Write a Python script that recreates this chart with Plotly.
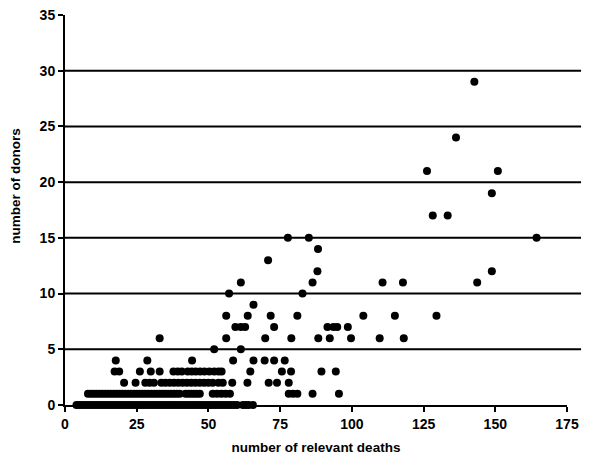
import plotly.graph_objects as go

# number of relevant deaths (x) for each number of donors (y), read row by row
deaths_0 = [4, 5, 6, 7, 8, 9, 10, 11, 12, 13, 14, 15, 16, 17, 18, 19, 20, 21, 22, 23,
            24, 25, 26, 27, 28, 29, 30, 31, 32, 33, 34, 35, 36, 37, 38, 39, 40, 41, 42,
            43, 44, 45, 46, 47, 48, 49, 50, 51, 52, 53, 54, 55, 56, 57, 58, 59, 60,
            62, 63, 64, 65.5]
deaths_1 = [8, 9, 10, 11, 12, 13, 14, 15, 16, 17, 18, 19, 20, 21, 22, 23, 24, 25, 26,
            27, 28, 29, 30, 31, 32, 33, 34, 35, 36, 37, 38, 39, 40, 42, 43, 44, 45, 46,
            47, 51.5, 53, 54.5, 56, 57.5, 78, 79.5, 81, 86.3, 95.5]
deaths_2 = [20.6, 24.6, 28, 29.5, 31, 33.6, 35, 36.5, 38, 39.5, 41, 42.5, 44, 45.5,
            47, 48.5, 50, 51.5, 53.5, 55, 58.3, 63.6, 71, 73.9, 78]
deaths_3 = [17.3, 18.9, 26.1, 29.9, 33, 37.8, 39.3, 40.7, 42.8, 44.2, 45.6, 47.1,
            48.6, 50.3, 52, 53.5, 54.6, 64.6, 75.6, 78.8, 89.4, 94.4]
deaths_4 = [17.7, 28.7, 44.3, 58.6, 65.7, 69.6, 72.9, 76.6]
deaths_5 = [52, 61.3]
deaths_6 = [33, 56.2, 69.8, 78.9, 88.3, 92.3, 99.7, 109.7, 118.1]
deaths_7 = [59.4, 61.3, 62.8, 72.9, 91.5, 93.6, 94.9, 98.6]
deaths_8 = [56.2, 63.7, 71.7, 81, 104, 115, 129.5]
deaths_9 = [65.7]
deaths_10 = [57.2, 82.8]
deaths_11 = [61.3, 86.3, 110.7, 117.8, 143.7]
deaths_12 = [88, 148.8]
deaths_13 = [70.8]
deaths_14 = [88.2]
deaths_15 = [77.7, 85, 164.4]
deaths_17 = [128.2, 133.4]
deaths_19 = [148.8]
deaths_21 = [126.2, 150.9]
deaths_24 = [136.3]
deaths_29 = [142.7]

rows = {0: deaths_0, 1: deaths_1, 2: deaths_2, 3: deaths_3, 4: deaths_4, 5: deaths_5,
        6: deaths_6, 7: deaths_7, 8: deaths_8, 9: deaths_9, 10: deaths_10,
        11: deaths_11, 12: deaths_12, 13: deaths_13, 14: deaths_14, 15: deaths_15,
        17: deaths_17, 19: deaths_19, 21: deaths_21, 24: deaths_24, 29: deaths_29}

x_ticks = [0, 25, 50, 75, 100, 125, 150, 175]
y_ticks = [0, 5, 10, 15, 20, 25, 30, 35]
grid_levels = [5, 10, 15, 20, 25, 30]

xs, ys = [], []
for donors, deaths in rows.items():
    for d in deaths:
        xs.append(d)
        ys.append(donors)

font_family = "Liberation Sans, Arial, sans-serif"

fig = go.Figure()
fig.add_trace(go.Scatter(
    x=xs, y=ys, mode="markers",
    marker=dict(symbol="circle", size=8, color="black", line=dict(width=0)),
    hoverinfo="skip", showlegend=False, cliponaxis=False,
))

shapes = [dict(type="line", xref="paper", x0=0, x1=1.028, yref="y", y0=g, y1=g,
               line=dict(color="black", width=2), layer="below") for g in grid_levels]

fig.update_layout(
    width=587, height=460,
    margin=dict(l=57, r=28, t=7, b=63),
    paper_bgcolor="white", plot_bgcolor="white",
    font=dict(family=font_family, color="black"),
    shapes=shapes,
    xaxis=dict(
        range=[0, 175], tickvals=x_ticks, ticktext=[str(v) for v in x_ticks],
        showgrid=False, zeroline=False, showline=True, linecolor="black", linewidth=2,
        ticks="outside", ticklen=5, tickwidth=2, tickcolor="black", automargin=False,
        ticklabeloverflow="allow",
        tickfont=dict(size=14, family=font_family, weight="bold"),
        title=dict(text="<b>number of relevant deaths</b>", font=dict(size=13.5), standoff=12),
    ),
    yaxis=dict(
        range=[0, 35], tickvals=y_ticks, ticktext=[str(v) for v in y_ticks],
        showgrid=False, zeroline=False, showline=True, linecolor="black", linewidth=2,
        ticks="outside", ticklen=5, tickwidth=2, tickcolor="black", automargin=False,
        ticklabeloverflow="allow",
        tickfont=dict(size=14, family=font_family, weight="bold"),
    ),
    annotations=[dict(text="<b>number of donors</b>", xref="paper", yref="paper",
                      x=-0.1, y=0.5615, xanchor="center", yanchor="middle",
                      textangle=-90, showarrow=False, font=dict(size=13.5))],
)

fig.write_html("out.html")
